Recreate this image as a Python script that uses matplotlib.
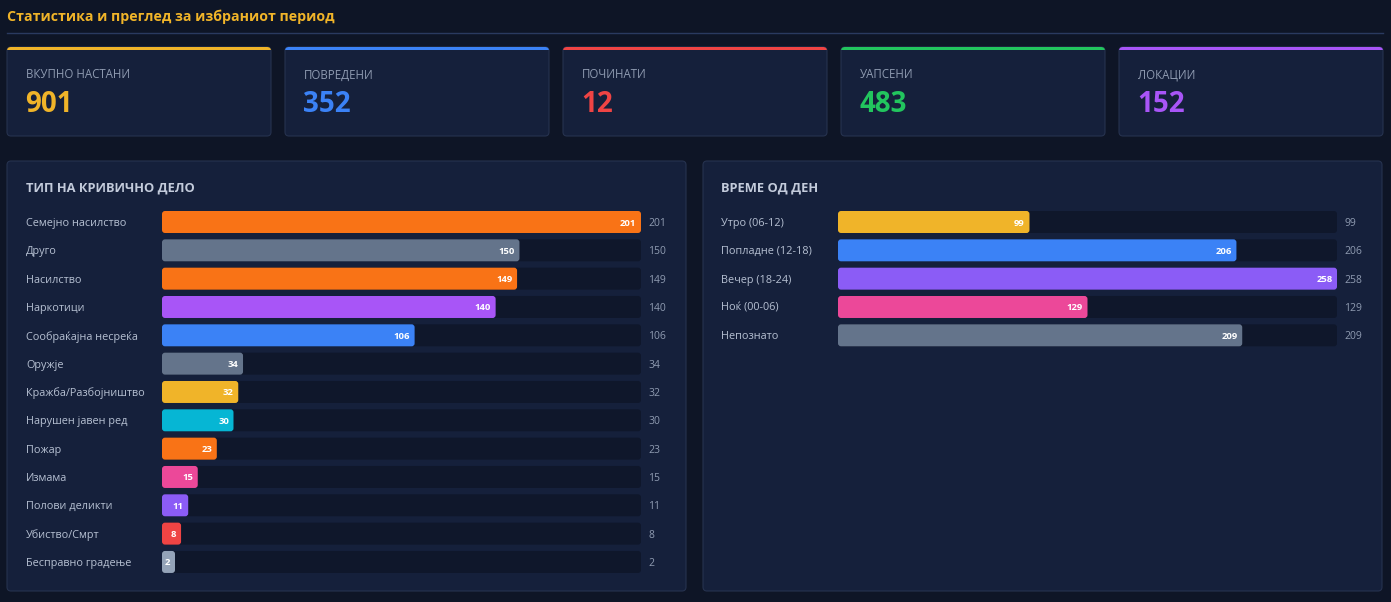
import matplotlib.pyplot as plt
from matplotlib.patches import FancyBboxPatch

plt.rcParams['font.family'] = ['Open Sans', 'DejaVu Sans']

# Data
page_title = "Статистика и преглед за избраниот период"

kpi_labels = ["ВКУПНО НАСТАНИ", "ПОВРЕДЕНИ", "ПОЧИНАТИ", "УАПСЕНИ", "ЛОКАЦИИ"]
kpi_values = [901, 352, 12, 483, 152]
kpi_colors = ["#f0b429", "#3b82f6", "#ef4444", "#22c55e", "#a855f7"]

crime_title = "ТИП НА КРИВИЧНО ДЕЛО"
crime_types = ["Семејно насилство", "Друго", "Насилство", "Наркотици",
               "Сообраќајна несреќа", "Оружје", "Кражба/Разбојништво",
               "Нарушен јавен ред", "Пожар", "Измама", "Полови деликти",
               "Убиство/Смрт", "Бесправно градење"]
crime_counts = [201, 150, 149, 140, 106, 34, 32, 30, 23, 15, 11, 8, 2]
crime_colors = ["#f97316", "#64748b", "#f97316", "#a855f7", "#3b82f6",
                "#64748b", "#f0b429", "#06b6d4", "#f97316", "#ec4899",
                "#8b5cf6", "#ef4444", "#94a3b8"]

time_title = "ВРЕМЕ ОД ДЕН"
time_slots = ["Утро (06-12)", "Попладне (12-18)", "Вечер (18-24)",
              "Ноќ (00-06)", "Непознато"]
time_counts = [99, 206, 258, 129, 209]
time_colors = ["#f0b429", "#3b82f6", "#8b5cf6", "#ec4899", "#64748b"]

# Style
BG = "#0e1526"
CARD = "#15203b"
EDGE = "#26324f"
TRACK = "#0f172b"
LABEL = "#b6c0d2"
MUTED = "#8f9bb1"

W, H = 1391, 602
PT = 72 / 100  # points per pixel

fig = plt.figure(figsize=(W / 100, H / 100), dpi=100, facecolor=BG)
bg = fig.add_axes([0, 0, 1, 1])
bg.set_xlim(0, W)
bg.set_ylim(H, 0)
bg.axis('off')
bg.set_facecolor(BG)


def card(x0, y0, x1, y1, color=CARD, edge=EDGE, r=4):
    p = FancyBboxPatch((x0, y0), x1 - x0, y1 - y0,
                       boxstyle=f"round,pad=0,rounding_size={r}",
                       facecolor=color, edgecolor=edge, linewidth=0.8)
    bg.add_patch(p)
    return p


# Header
bg.text(7, 17, page_title, color="#f0b429", fontsize=10.2, fontweight='bold',
        va='center', ha='left')
bg.plot([7, 1383], [33, 33], color="#2a3a60", linewidth=1)

# KPI cards
for i, (lab, val, col) in enumerate(zip(kpi_labels, kpi_values, kpi_colors)):
    x0 = 7 + i * 278
    x1 = x0 + 264
    card(x0, 47, x1, 136)
    strip = card(x0, 47, x1, 136, color=col, edge='none')
    clip = plt.Rectangle((x0 - 1, 46), x1 - x0 + 2, 4, transform=bg.transData)
    strip.set_clip_path(clip)
    bg.text(x0 + 19, 75, lab, color=MUTED, fontsize=8.3, va='center', ha='left')
    bg.text(x0 + 18, 104, str(val), color=col, fontsize=20, fontweight='bold',
            va='center', ha='left')

# Panels
card(7, 161, 686, 591)
card(703, 161, 1382, 591)
bg.text(26, 188, crime_title, color="#c3cbdb", fontsize=9.3, fontweight='bold',
        va='center', ha='left')
bg.text(721, 188, time_title, color="#c3cbdb", fontsize=9.3, fontweight='bold',
        va='center', ha='left')


def bar_panel(cats, vals, colors, left, right, label_x, min_px=13):
    n = len(cats)
    row = 28.33
    top = 222 - row / 2
    bottom = top + row * n
    ax = fig.add_axes([left / W, 1 - bottom / H, (right - left) / W, (bottom - top) / H])
    vmax = max(vals)
    ax.set_xlim(0, vmax)
    ax.set_ylim(n - 0.5, -0.5)
    ax.set_facecolor('none')
    for s in ax.spines.values():
        s.set_visible(False)
    ax.set_xticks([])
    ax.set_yticks(range(n))
    ax.set_yticklabels(cats, ha='left')
    ax.tick_params(axis='y', length=0, pad=(left - label_x) * PT,
                   labelcolor=LABEL, labelsize=7.8)

    xu = vmax / (right - left)      # data units per pixel in x
    yu = 1 / row                    # data units per pixel in y
    aspect = yu / xu
    h = 22 * yu
    r = 3 * xu
    for i, (v, c) in enumerate(zip(vals, colors)):
        ax.add_patch(FancyBboxPatch((0, i - h / 2), vmax, h,
                                    boxstyle=f"round,pad=0,rounding_size={r}",
                                    mutation_aspect=aspect,
                                    facecolor=TRACK, edgecolor='none'))
        w = max(v, min_px * xu)
        ax.add_patch(FancyBboxPatch((0, i - h / 2), w, h,
                                    boxstyle=f"round,pad=0,rounding_size={r}",
                                    mutation_aspect=aspect,
                                    facecolor=c, edgecolor='none'))
        ax.annotate(str(v), xy=(w, i), xytext=(-4.5 * PT, 0),
                    textcoords='offset points', ha='right', va='center_baseline',
                    color='white', fontsize=6.8, fontweight='bold')
        ax.annotate(str(v), xy=(vmax, i), xytext=(7.5 * PT, 0),
                    textcoords='offset points', ha='left', va='center_baseline',
                    color=MUTED, fontsize=7.5)
    return ax


bar_panel(crime_types, crime_counts, crime_colors, 162, 641, 26)
bar_panel(time_slots, time_counts, time_colors, 838, 1337, 721)

fig.savefig("out.png", dpi=100, facecolor=BG)
